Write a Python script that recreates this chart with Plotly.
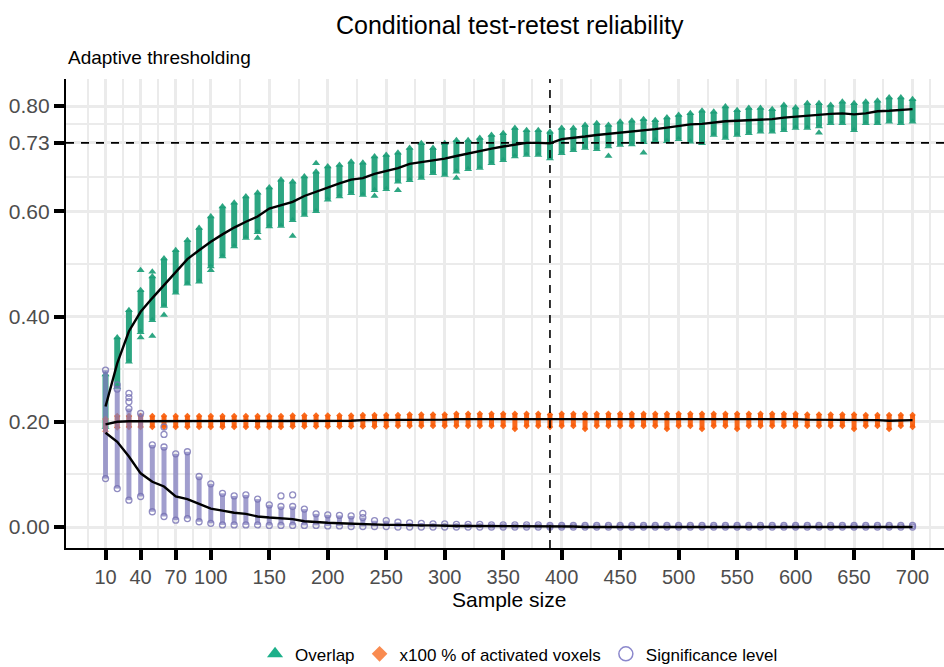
import plotly.graph_objects as go

# ---------------- data ----------------
sample_size = list(range(10, 701, 10))

overlap_mean = [0.229, 0.311, 0.372, 0.409, 0.435, 0.460, 0.483, 0.509, 0.526, 0.542,
                0.556, 0.569, 0.580, 0.590, 0.605, 0.612, 0.618, 0.629, 0.637, 0.646,
                0.653, 0.660, 0.663, 0.671, 0.676, 0.682, 0.690, 0.693, 0.697, 0.700,
                0.705, 0.710, 0.715, 0.719, 0.723, 0.727, 0.730, 0.730, 0.729, 0.737,
                0.739, 0.742, 0.745, 0.747, 0.749, 0.752, 0.754, 0.756, 0.759, 0.762,
                0.765, 0.766, 0.769, 0.771, 0.772, 0.773, 0.775, 0.775, 0.778, 0.780,
                0.782, 0.783, 0.785, 0.786, 0.784, 0.786, 0.790, 0.791, 0.792, 0.794]
overlap_low = [0.190, 0.266, 0.314, 0.370, 0.393, 0.420, 0.445, 0.462, 0.466, 0.495,
               0.514, 0.533, 0.549, 0.560, 0.571, 0.572, 0.583, 0.593, 0.600, 0.622,
               0.628, 0.634, 0.631, 0.640, 0.642, 0.656, 0.659, 0.663, 0.672, 0.669,
               0.675, 0.680, 0.682, 0.691, 0.697, 0.704, 0.707, 0.707, 0.700, 0.710,
               0.716, 0.720, 0.718, 0.723, 0.726, 0.727, 0.731, 0.735, 0.733, 0.737,
               0.732, 0.729, 0.745, 0.739, 0.745, 0.748, 0.751, 0.751, 0.754, 0.758,
               0.758, 0.761, 0.767, 0.767, 0.754, 0.767, 0.767, 0.770, 0.767, 0.770]
overlap_high = [0.290, 0.360, 0.412, 0.450, 0.476, 0.510, 0.526, 0.545, 0.568, 0.590,
                0.609, 0.616, 0.628, 0.635, 0.645, 0.660, 0.656, 0.666, 0.675, 0.685,
                0.688, 0.694, 0.692, 0.704, 0.707, 0.711, 0.720, 0.729, 0.720, 0.729,
                0.735, 0.735, 0.739, 0.745, 0.748, 0.758, 0.754, 0.754, 0.751, 0.758,
                0.758, 0.764, 0.767, 0.764, 0.770, 0.772, 0.775, 0.773, 0.778, 0.783,
                0.786, 0.791, 0.789, 0.799, 0.792, 0.796, 0.796, 0.794, 0.802, 0.797,
                0.805, 0.805, 0.802, 0.808, 0.805, 0.808, 0.810, 0.816, 0.816, 0.813]
overlap_out_x = [40, 40, 50, 50, 60, 100, 140, 170, 190, 240, 260, 310, 440, 470, 620]
overlap_out_y = [0.488, 0.360, 0.485, 0.363, 0.403, 0.488, 0.549, 0.553, 0.691, 0.629,
                 0.640, 0.663, 0.705, 0.711, 0.749]

active_mean = [0.195, 0.200, 0.201, 0.201, 0.201, 0.201, 0.201, 0.201, 0.201, 0.201,
               0.201, 0.201, 0.201, 0.201, 0.201, 0.201, 0.201, 0.202, 0.202, 0.202,
               0.202, 0.202, 0.203, 0.203, 0.203, 0.203, 0.204, 0.204, 0.204, 0.204,
               0.205, 0.205, 0.205, 0.205, 0.206, 0.206, 0.206, 0.206, 0.205, 0.206,
               0.206, 0.206, 0.206, 0.206, 0.206, 0.206, 0.206, 0.205, 0.205, 0.205,
               0.205, 0.205, 0.205, 0.205, 0.205, 0.205, 0.205, 0.205, 0.205, 0.205,
               0.204, 0.204, 0.204, 0.204, 0.204, 0.203, 0.203, 0.202, 0.203, 0.203]
active_low = [0.182, 0.189, 0.190, 0.190, 0.190, 0.190, 0.190, 0.190, 0.190, 0.190,
              0.190, 0.190, 0.190, 0.190, 0.190, 0.190, 0.191, 0.191, 0.191, 0.191,
              0.191, 0.191, 0.191, 0.191, 0.191, 0.192, 0.192, 0.192, 0.192, 0.192,
              0.192, 0.192, 0.192, 0.192, 0.192, 0.186, 0.192, 0.192, 0.190, 0.192,
              0.192, 0.186, 0.192, 0.192, 0.192, 0.192, 0.192, 0.192, 0.186, 0.192,
              0.192, 0.186, 0.192, 0.192, 0.186, 0.192, 0.192, 0.192, 0.192, 0.192,
              0.192, 0.192, 0.192, 0.192, 0.186, 0.192, 0.192, 0.186, 0.192, 0.190]
active_high = [0.205, 0.211, 0.211, 0.211, 0.211, 0.211, 0.211, 0.211, 0.211, 0.211,
               0.211, 0.211, 0.211, 0.211, 0.211, 0.211, 0.212, 0.212, 0.212, 0.212,
               0.212, 0.212, 0.213, 0.213, 0.213, 0.213, 0.214, 0.214, 0.214, 0.214,
               0.215, 0.215, 0.215, 0.215, 0.215, 0.215, 0.215, 0.215, 0.214, 0.215,
               0.215, 0.215, 0.215, 0.215, 0.215, 0.215, 0.215, 0.215, 0.215, 0.215,
               0.215, 0.215, 0.215, 0.215, 0.215, 0.215, 0.215, 0.215, 0.215, 0.215,
               0.214, 0.214, 0.214, 0.214, 0.214, 0.213, 0.213, 0.213, 0.213, 0.213]

signif_mean = [0.179, 0.162, 0.134, 0.102, 0.086, 0.077, 0.058, 0.053, 0.044, 0.035,
               0.031, 0.027, 0.025, 0.020, 0.018, 0.016, 0.015, 0.011, 0.009, 0.008,
               0.007, 0.006, 0.005, 0.005, 0.004, 0.004, 0.003, 0.003, 0.003, 0.002,
               0.002, 0.002, 0.002, 0.001, 0.001, 0.001, 0.001, 0.001, 0.001, 0.001,
               0.001, 0.000, 0.000, 0.000, 0.000, 0.000, 0.000, 0.000, 0.000, 0.000,
               0.000, 0.000, 0.000, 0.000, 0.000, 0.000, 0.000, 0.000, 0.000, 0.000,
               0.000, 0.000, 0.000, 0.000, 0.000, 0.000, 0.000, 0.000, 0.000, 0.000]
signif_low = [0.092, 0.073, 0.051, 0.058, 0.029, 0.020, 0.013, 0.016, 0.010, 0.007,
              0.004, 0.004, 0.004, 0.004, 0.003, 0.003, 0.003, 0.003, 0.003, 0.002,
              0.002, 0.001, 0.001, 0.001, 0.001, 0.000, 0.000, 0.000, 0.000, 0.000,
              0.000, 0.000, 0.000, 0.000, 0.000, 0.000, 0.000, 0.000, 0.000, 0.000,
              0.000, 0.000, 0.000, 0.000, 0.000, 0.000, 0.000, 0.000, 0.000, 0.000,
              0.000, 0.000, 0.000, 0.000, 0.000, 0.000, 0.000, 0.000, 0.000, 0.000,
              0.000, 0.000, 0.000, 0.000, 0.000, 0.000, 0.000, 0.000, 0.000, 0.000]
signif_high = [0.298, 0.262, 0.225, 0.216, 0.156, 0.152, 0.139, 0.143, 0.096, 0.082,
               0.064, 0.059, 0.061, 0.053, 0.042, 0.039, 0.039, 0.034, 0.025, 0.023,
               0.022, 0.021, 0.018, 0.012, 0.012, 0.009, 0.008, 0.007, 0.006, 0.006,
               0.005, 0.005, 0.005, 0.004, 0.004, 0.004, 0.004, 0.004, 0.003, 0.003,
               0.003, 0.003, 0.003, 0.003, 0.003, 0.003, 0.003, 0.003, 0.003, 0.003,
               0.003, 0.003, 0.003, 0.003, 0.003, 0.003, 0.003, 0.003, 0.003, 0.003,
               0.003, 0.003, 0.003, 0.003, 0.003, 0.003, 0.003, 0.003, 0.003, 0.003]
signif_out_x = [20, 30, 30, 30, 60, 60, 160, 170, 230]
signif_out_y = [0.270, 0.254, 0.246, 0.238, 0.190, 0.176, 0.059, 0.061, 0.026]

x_ticks = [10, 40, 70, 100, 150, 200, 250, 300, 350, 400, 450, 500, 550, 600, 650, 700]
x_minor = [-5, 25, 55, 85, 125, 175, 225, 275, 325, 375, 425, 475, 525, 575, 625, 675, 715]
y_ticks = [0.00, 0.20, 0.40, 0.60, 0.73, 0.80]
y_tick_text = ["0.00", "0.20", "0.40", "0.60", "0.73", "0.80"]
y_minor = [0.10, 0.30, 0.50, 0.665, 0.765]
ref_sample = 390
ref_overlap = 0.73

GREEN = "rgba(27,158,119,0.92)"
ORANGE = "rgba(248,92,10,0.92)"
PURPLE = "rgba(117,112,179,0.80)"
FONT = "Liberation Sans, Arial, sans-serif"


def segments(xs, lo, hi):
    sx, sy = [], []
    for x, a, b in zip(xs, lo, hi):
        sx += [x, x, None]
        sy += [a, b, None]
    return sx, sy


fig = go.Figure()

# ---- overlap cloud
sx, sy = segments(sample_size, overlap_low, overlap_high)
fig.add_trace(go.Scatter(x=sx, y=sy, mode="lines", line=dict(color=GREEN, width=6),
                         showlegend=False, hoverinfo="skip"))
fig.add_trace(go.Scatter(x=sample_size + sample_size + overlap_out_x,
                         y=overlap_low + overlap_high + overlap_out_y,
                         mode="markers", showlegend=False,
                         marker=dict(symbol="triangle-up", size=7, color=GREEN, line=dict(width=0))))

# ---- activated voxels cloud
sx, sy = segments(sample_size, active_low, active_high)
fig.add_trace(go.Scatter(x=sx, y=sy, mode="lines", line=dict(color=ORANGE, width=5),
                         showlegend=False, hoverinfo="skip"))
fig.add_trace(go.Scatter(x=sample_size + sample_size, y=active_low + active_high,
                         mode="markers", showlegend=False,
                         marker=dict(symbol="diamond", size=5, color=ORANGE, line=dict(width=0))))

# ---- significance cloud
sx, sy = segments(sample_size, signif_low, signif_high)
fig.add_trace(go.Scatter(x=sx, y=sy, mode="lines", line=dict(color="rgba(130,125,190,0.75)", width=5),
                         showlegend=False, hoverinfo="skip"))
fig.add_trace(go.Scatter(x=sample_size + sample_size + signif_out_x,
                         y=signif_low + signif_high + signif_out_y,
                         mode="markers", showlegend=False,
                         marker=dict(symbol="circle-open", size=6, color=PURPLE, line=dict(width=1.3))))

# ---- mean lines
for m in (overlap_mean, active_mean, signif_mean):
    fig.add_trace(go.Scatter(x=sample_size, y=m, mode="lines",
                             line=dict(color="black", width=2.4), showlegend=False))

# ---- legend entries
fig.add_trace(go.Scatter(x=[None], y=[None], mode="markers", name="Overlap",
                         marker=dict(symbol="triangle-up", size=14, color="#1DB08A")))
fig.add_trace(go.Scatter(x=[None], y=[None], mode="markers", name="x100 % of activated voxels",
                         marker=dict(symbol="diamond", size=12, color="#F98B50")))
fig.add_trace(go.Scatter(x=[None], y=[None], mode="markers", name="Significance level",
                         marker=dict(symbol="circle-open", size=14, color="#8C88CC",
                                     line=dict(width=1.5))))

# ---- reference dashed lines
fig.add_shape(type="line", xref="paper", x0=0, x1=1, yref="y", y0=ref_overlap, y1=ref_overlap,
              line=dict(color="black", width=1.6, dash="8px,7px"), layer="above")
fig.add_shape(type="line", xref="x", x0=ref_sample, x1=ref_sample, yref="paper", y0=0, y1=1,
              line=dict(color="black", width=1.6, dash="8px,7px"), layer="above")

grid = "#EBEBEB"
axis_common = dict(showline=True, linecolor="black", linewidth=2.2, ticks="outside",
                   ticklen=10, tickwidth=3.5, tickcolor="black", zeroline=False,
                   showgrid=True, gridcolor=grid, gridwidth=3)

fig.update_xaxes(range=[-23.8, 726.9], tickmode="array", tickvals=x_ticks,
                 ticktext=[str(v) for v in x_ticks],
                 tickfont=dict(family=FONT, size=20, color="#4D4D4D"),
                 minor=dict(tickmode="array", tickvals=x_minor, showgrid=True,
                            gridcolor=grid, gridwidth=2.4, ticks=""),
                 automargin=False, **axis_common)
fig.update_yaxes(range=[-0.0399, 0.8513], tickmode="array", tickvals=y_ticks,
                 ticktext=y_tick_text,
                 tickfont=dict(family=FONT, size=21, color="#4D4D4D"),
                 minor=dict(tickmode="array", tickvals=y_minor, showgrid=True,
                            gridcolor=grid, gridwidth=2.4, ticks=""),
                 automargin=False, **axis_common)

fig.update_layout(
    width=944, height=667,
    margin=dict(l=66, r=0, t=79, b=119, autoexpand=False),
    paper_bgcolor="white", plot_bgcolor="white",
    font=dict(family=FONT, color="black"),
    showlegend=True,
    legend=dict(orientation="h", x=0.516, xanchor="center",
                yref="container", y=0.046, yanchor="top",
                font=dict(family=FONT, size=17, color="black"), itemwidth=30,
                bgcolor="rgba(0,0,0,0)"),
    annotations=[
        dict(text="Conditional test-retest reliability", xref="paper", yref="paper",
             x=0.5057, y=1.1151, xanchor="center", yanchor="middle", showarrow=False,
             font=dict(family=FONT, size=25, color="black")),
        dict(text="Adaptive thresholding", xref="paper", yref="paper",
             x=0.0, y=1.0448, xanchor="left", yanchor="middle", showarrow=False,
             font=dict(family=FONT, size=19, color="black")),
        dict(text="Sample size", xref="paper", yref="paper",
             x=0.505, y=-0.1100, xanchor="center", yanchor="middle", showarrow=False,
             font=dict(family=FONT, size=21, color="black")),
    ],
)

fig.write_html("out.html")
